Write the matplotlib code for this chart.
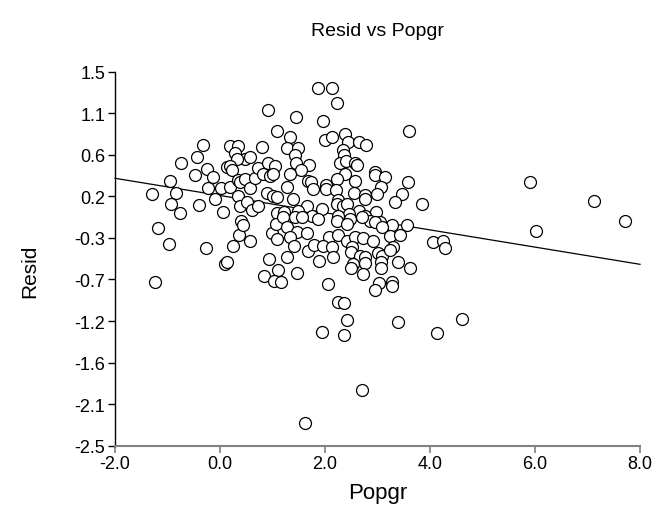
import numpy as np
import matplotlib
matplotlib.use("Agg")
import matplotlib.pyplot as plt

plt.rcParams['font.family'] = ['Liberation Sans', 'DejaVu Sans']

# ---- data ----
popgr = [
    -1.301, -1.190, -1.229, -0.971, -0.943, -0.838, -0.939, -0.762, -0.749, -0.476,
    -0.444, -0.394, -0.318, -0.253, -0.223, -0.128, -0.086, -0.267, 0.063, 0.013,
    0.190, 0.095, 0.128, 0.248, 0.368, 0.400, 0.438, 0.571, 0.190, 0.349,
    0.286, 0.476, 0.571, 0.318, 0.128, 0.190, 0.223, 0.349, 0.381, 0.476,
    0.571, 0.349, 0.381, 0.509, 0.600, 0.730, 0.667, 0.730, 0.806, 0.920,
    1.095, 0.920, 1.048, 0.825, 0.952, 1.015, 0.890, 1.015, 1.095, 1.080,
    0.985, 1.080, 1.061, 0.924, 1.114, 0.838, 1.029, 1.156, 1.270, 1.324,
    1.282, 1.491, 1.442, 1.861, 2.128, 2.234, 1.968, 3.606, 2.000, 2.139,
    2.381, 2.429, 2.648, 2.781, 1.438, 2.349, 2.371, 1.448, 1.690, 1.543,
    1.333, 2.286, 2.400, 2.562, 2.604, 2.952, 2.952, 3.143, 2.381, 2.238,
    2.571, 3.587, 1.682, 1.739, 1.777, 2.015, 2.025, 2.200, 1.282, 3.067,
    2.547, 2.762, 2.756, 2.994, 3.463, 3.333, 3.851, 1.396, 2.248, 2.238,
    2.343, 2.413, 1.663, 1.491, 1.219, 1.937, 2.648, 2.962, 2.457, 2.476,
    2.253, 1.747, 1.429, 2.762, 2.857, 3.270, 3.556, 3.048, 2.952, 1.206,
    1.556, 1.872, 2.223, 2.413, 2.699, 3.080, 1.270, 1.461, 1.651, 1.333,
    2.082, 2.253, 2.413, 2.571, 2.730, 2.920, 3.238, 3.429, 1.415, 1.670,
    1.790, 1.968, 2.128, 2.509, 2.495, 2.667, 2.762, 3.004, 3.080, 3.301,
    3.238, 1.891, 2.158, 3.396, 3.619, 2.539, 2.495, 2.762, 2.730, 3.067,
    3.067, 1.472, 2.063, 3.029, 2.952, 3.270, 3.270, 2.242, 2.362, 2.413,
    3.385, 1.949, 2.368, 4.128, 4.615, 2.710, 1.619, 4.063, 4.253, 4.286,
    5.905, 7.124, 7.714, 6.013,
]
resid = [
    0.192, -0.172, -0.749, -0.346, 0.326, 0.203, 0.085, -0.011, 0.524, 0.395,
    0.591, 0.069, 0.716, 0.459, 0.253, 0.371, 0.139, -0.382, -0.004, 0.253,
    0.264, -0.557, -0.539, -0.364, -0.243, -0.097, -0.140, -0.307, 0.709, 0.709,
    0.627, 0.566, 0.591, 0.566, 0.484, 0.495, 0.449, 0.345, 0.317, 0.352,
    0.259, 0.174, 0.067, 0.103, 0.021, 0.067, 0.360, 0.467, 0.698, 1.090,
    0.869, 0.524, 0.495, 0.406, 0.381, 0.406, 0.203, 0.174, 0.157, -0.011,
    -0.225, -0.289, -0.129, -0.498, -0.616, -0.685, -0.735, -0.746, -0.485, 0.798,
    0.681, 0.681, 1.012, 1.326, 1.326, 1.160, 0.975, 0.863, 0.770, 0.798,
    0.837, 0.748, 0.753, 0.721, 0.609, 0.660, 0.614, 0.527, 0.505, 0.449,
    0.409, 0.527, 0.550, 0.524, 0.505, 0.429, 0.395, 0.371, 0.406, 0.352,
    0.329, 0.324, 0.331, 0.317, 0.249, 0.291, 0.242, 0.235, 0.269, 0.272,
    0.199, 0.181, 0.139, 0.192, 0.195, 0.103, 0.085, 0.135, 0.128, 0.085,
    0.064, 0.088, 0.064, 0.013, -0.001, 0.032, 0.010, -0.001, -0.027, -0.075,
    -0.040, -0.040, -0.057, -0.040, -0.094, -0.136, -0.136, -0.111, -0.111, -0.057,
    -0.057, -0.075, -0.100, -0.129, -0.057, -0.164, -0.164, -0.211, -0.225, -0.265,
    -0.271, -0.243, -0.307, -0.265, -0.279, -0.307, -0.254, -0.243, -0.367, -0.414,
    -0.353, -0.367, -0.378, -0.378, -0.432, -0.474, -0.485, -0.439, -0.474, -0.378,
    -0.407, -0.521, -0.479, -0.532, -0.599, -0.557, -0.599, -0.549, -0.664, -0.539,
    -0.599, -0.653, -0.771, -0.763, -0.835, -0.752, -0.795, -0.960, -0.974, -1.152,
    -1.174, -1.287, -1.313, -1.295, -1.145, -1.907, -2.260, -0.325, -0.307, -0.389,
    0.324, 0.120, -0.100, -0.201,
]

# fitted line end points
fit_x = [-2.0, 8.0]
fit_y = [0.36, -0.56]

x_ticks = [-2.0, 0.0, 2.0, 4.0, 6.0, 8.0]
x_tick_labels = ["-2.0", "0.0", "2.0", "4.0", "6.0", "8.0"]
y_ticks = list(np.linspace(1.5, -2.5, 10))
y_tick_labels = ["1.5", "1.1", "0.6", "0.2", "-0.3", "-0.7", "-1.2", "-1.6", "-2.1", "-2.5"]

title = "Resid vs Popgr"
x_label = "Popgr"
y_label = "Resid"

# ---- figure ----
W, H = 654, 506
fig = plt.figure(figsize=(W / 100, H / 100), dpi=100)
ax = fig.add_axes([115 / W, 1 - 446.7 / H, (640 - 115) / W, (446.7 - 72.7) / H])

ax.plot(popgr, resid, linestyle='none', marker='o', markersize=8.6,
        markerfacecolor='white', markeredgecolor='black', markeredgewidth=0.9,
        clip_on=False, zorder=3)
ax.plot(fit_x, fit_y, color='black', linewidth=0.9, zorder=2, clip_on=False)

ax.set_xlim(-2.0, 8.0)
ax.set_ylim(-2.5, 1.5)
ax.set_xticks(x_ticks)
ax.set_xticklabels(x_tick_labels)
ax.set_yticks(y_ticks)
ax.set_yticklabels(y_tick_labels)

for s in ['top', 'right']:
    ax.spines[s].set_visible(False)
ax.spines['left'].set_color('black')
ax.spines['left'].set_linewidth(1.0)
ax.spines['bottom'].set_color('#808080')
ax.spines['bottom'].set_linewidth(1.5)

ax.tick_params(axis='x', direction='out', length=5, width=1.2, colors='#808080',
               labelcolor='black', labelsize=13, pad=2)
ax.tick_params(axis='y', direction='out', length=5, width=1.0, colors='black',
               labelcolor='black', labelsize=13, pad=2)

fig.text(377.5 / W, 1 - 32 / H, title, ha='center', va='center', fontsize=14)
fig.text(377.5 / W, 1 - 494 / H, x_label, ha='center', va='center', fontsize=16)
fig.text(30 / W, 1 - 271 / H, y_label, ha='center', va='center', fontsize=15,
         rotation=90)

fig.savefig("out.png", dpi=100)
